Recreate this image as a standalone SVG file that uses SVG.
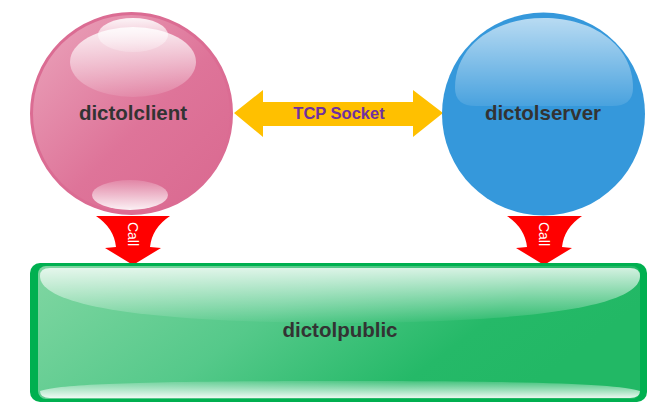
<svg xmlns="http://www.w3.org/2000/svg" width="664" height="418" viewBox="0 0 664 418">
<defs>
<linearGradient id="pinkFill" x1="0" y1="0" x2="1" y2="1">
<stop offset="0" stop-color="#eba5bc"/>
<stop offset="0.55" stop-color="#de7499"/>
<stop offset="1" stop-color="#d9688f"/>
</linearGradient>
<linearGradient id="hlDown" x1="0" y1="0" x2="0" y2="1">
<stop offset="0" stop-color="#ffffff" stop-opacity="0.85"/>
<stop offset="1" stop-color="#ffffff" stop-opacity="0.1"/>
</linearGradient>
<linearGradient id="hlGreen" x1="0" y1="0" x2="0" y2="1">
<stop offset="0" stop-color="#ffffff" stop-opacity="0.8"/>
<stop offset="1" stop-color="#ffffff" stop-opacity="0.03"/>
</linearGradient>
<linearGradient id="hlUp" x1="0" y1="0" x2="0" y2="1">
<stop offset="0" stop-color="#ffffff" stop-opacity="0.15"/>
<stop offset="1" stop-color="#ffffff" stop-opacity="0.9"/>
</linearGradient>
<linearGradient id="hlSmall" x1="0" y1="0" x2="0" y2="1">
<stop offset="0" stop-color="#ffffff" stop-opacity="0.9"/>
<stop offset="1" stop-color="#ffffff" stop-opacity="0.2"/>
</linearGradient>
<linearGradient id="blueHl" x1="0" y1="0" x2="0" y2="1">
<stop offset="0" stop-color="#ffffff" stop-opacity="0.65"/>
<stop offset="1" stop-color="#ffffff" stop-opacity="0.1"/>
</linearGradient>
<linearGradient id="greenFill" x1="0" y1="0" x2="1" y2="0.3">
<stop offset="0" stop-color="#80d6a2"/>
<stop offset="0.45" stop-color="#55c98a"/>
<stop offset="0.8" stop-color="#25b968"/>
<stop offset="1" stop-color="#22b865"/>
</linearGradient>
<style>
.lbl{font-family:"Liberation Sans",Arial,sans-serif;font-weight:bold;fill:#333333;text-anchor:middle}
.call{font-family:"Liberation Sans",Arial,sans-serif;font-size:14px;fill:#ffffff;text-anchor:middle;dominant-baseline:central}
.red{fill:#ff0000}
</style>
</defs>
<rect width="664" height="418" fill="#ffffff"/>
<g id="connectors">
<g id="tcp">
<path d="M234,113 L263,90 L263,102 L413,102 L413,90 L443,113 L413,137 L413,126 L263,126 L263,137 Z" fill="#ffc000"/>
<text x="339" y="119" font-family="Liberation Sans, Arial, sans-serif" font-weight="bold" font-size="16.5" fill="#7030a0" text-anchor="middle">TCP Socket</text>
</g>
<g id="call-client">
<path class="red" d="M96,216 L170,216 Q152,228 150,247 L161,248 L133,265 L105,248 L116,247 Q114,228 96,216 Z"/>
<text class="call" transform="translate(133,234) rotate(90)">Call</text>
</g>
<g id="call-server">
<path class="red" d="M507,216 L582,216 Q564,228 562,247 L572,248 L544,265 L516,248 L527,247 Q525,228 507,216 Z"/>
<text class="call" transform="translate(544,234) rotate(90)">Call</text>
</g>
</g>
<g id="dictolclient">
<circle cx="131.5" cy="113.5" r="100" fill="url(#pinkFill)" stroke="#db6c93" stroke-width="3"/>
<ellipse cx="133" cy="62" rx="63" ry="35" fill="url(#hlDown)"/>
<ellipse cx="133" cy="35" rx="35" ry="17" fill="url(#hlSmall)"/>
<ellipse cx="130" cy="195" rx="38" ry="15" fill="url(#hlUp)"/>
<text class="lbl" x="133" y="120" font-size="20.5">dictolclient</text>
</g>
<g id="dictolserver">
<circle cx="543.5" cy="114" r="101.5" fill="#3598db"/>
<path d="M455,88 C455,45 495,18 544,18 C593,18 633,45 633,88 Q633,106 612,106 L476,106 Q455,106 455,88 Z" fill="url(#blueHl)"/>
<text class="lbl" x="543" y="120" font-size="20.5">dictolserver</text>
</g>
<g id="dictolpublic">
<rect x="30" y="263" width="617" height="139" rx="10" fill="#00b050"/>
<rect x="38" y="266" width="602" height="133" rx="8" fill="url(#greenFill)"/>
<path d="M40,276 Q40,268 50,268 L630,268 Q640,268 640,276 C640,302 560,322 340,323 C120,322 40,302 40,276 Z" fill="url(#hlGreen)"/>
<path d="M40,391 C60,384 140,381 340,381 C540,381 620,384 640,391 Q640,398 630,398 L50,398 Q40,398 40,391 Z" fill="url(#hlUp)"/>
<text class="lbl" x="340" y="337" font-size="20.5">dictolpublic</text>
</g>
</svg>
